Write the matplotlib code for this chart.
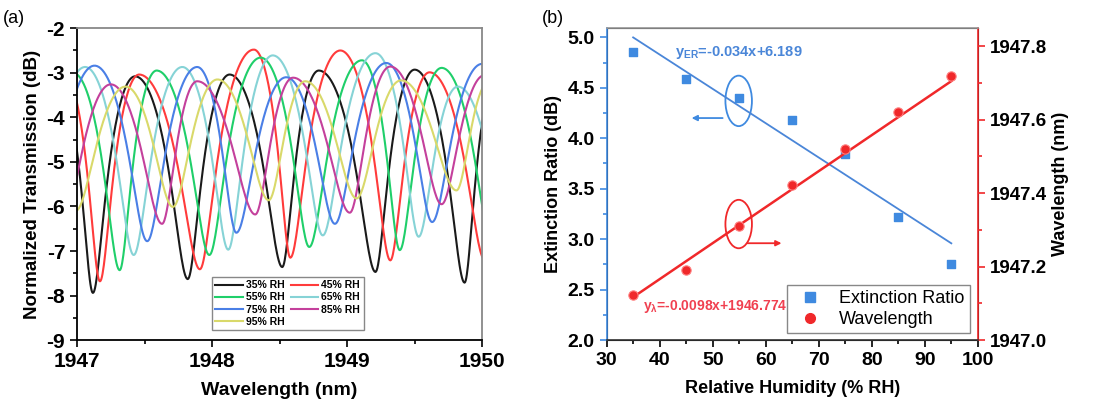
import numpy as np
import matplotlib.pyplot as plt
from matplotlib.patches import Ellipse
from matplotlib.lines import Line2D

plt.rcParams['font.family'] = ['Liberation Sans', 'DejaVu Sans']
plt.rcParams['axes.unicode_minus'] = False

# (a) spectra: peaks and dips (wavelength nm, dB)
rh_labels = ['35% RH', '45% RH', '55% RH', '65% RH', '75% RH', '85% RH', '95% RH']
rh_colors = ['#1a1a1a', '#ff3b3b', '#1fcf6a', '#86d3d6', '#4a7fe6', '#c4409c', '#d9d96a']

wl_35 = [1946.84, 1947.118, 1947.43, 1947.82, 1948.13, 1948.52, 1948.79, 1949.21, 1949.50, 1949.87, 1950.12]
tr_35 = [-3.00, -7.94, -3.08, -7.63, -3.04, -7.36, -2.95, -7.47, -2.93, -7.71, -2.95]
wl_45 = [1946.90, 1947.17, 1947.46, 1947.91, 1948.31, 1948.58, 1948.95, 1949.32, 1949.61, 1950.02]
tr_45 = [-3.00, -7.68, -3.04, -7.41, -2.48, -7.15, -2.50, -7.21, -2.99, -7.20]
wl_55 = [1946.97, 1947.316, 1947.59, 1947.98, 1948.36, 1948.72, 1949.11, 1949.39, 1949.70, 1950.08]
tr_55 = [-3.00, -7.43, -2.95, -7.09, -2.66, -6.91, -2.72, -6.98, -2.89, -7.00]
wl_65 = [1946.70, 1947.06, 1947.42, 1947.78, 1948.12, 1948.45, 1948.82, 1949.21, 1949.53, 1949.82, 1950.20]
tr_65 = [-6.80, -2.87, -7.09, -2.87, -6.97, -2.61, -6.65, -2.56, -6.68, -3.31, -6.70]
wl_75 = [1946.75, 1947.13, 1947.52, 1947.89, 1948.18, 1948.55, 1948.91, 1949.29, 1949.63, 1950.00, 1950.35]
tr_75 = [-6.50, -2.84, -6.78, -2.87, -6.59, -3.10, -6.39, -2.78, -6.35, -2.80, -6.40]
wl_85 = [1946.90, 1947.25, 1947.63, 1947.89, 1948.32, 1948.60, 1949.02, 1949.32, 1949.70, 1950.02]
tr_85 = [-6.30, -3.26, -6.39, -3.19, -6.18, -3.11, -6.14, -2.86, -5.95, -3.05]
wl_95 = [1946.99, 1947.36, 1947.71, 1948.04, 1948.42, 1948.69, 1949.07, 1949.40, 1949.81, 1950.05]
tr_95 = [-6.10, -3.31, -6.01, -3.15, -5.86, -3.19, -5.82, -3.17, -5.64, -3.20]

spectra = [(wl_35, tr_35), (wl_45, tr_45), (wl_55, tr_55), (wl_65, tr_65),
           (wl_75, tr_75), (wl_85, tr_85), (wl_95, tr_95)]

# (b) extinction ratio and dip wavelength vs humidity
humidity = [35, 45, 55, 65, 75, 85, 95]
ext_ratio = [4.85, 4.59, 4.40, 4.18, 3.84, 3.22, 2.75]
dip_wl = [1947.122, 1947.190, 1947.310, 1947.421, 1947.519, 1947.620, 1947.719]
er_fit = (-0.034, 6.189)
wl_fit = (0.0098, 1946.774)


def smooth_between(xs, ys, n=60, k=2.0):
    # half-cosine between neighbouring extrema, done on power**k so dips come out sharp
    out_x, out_y = [], []
    for i in range(len(xs) - 1):
        x0, x1 = xs[i], xs[i + 1]
        q0, q1 = 10 ** (k * ys[i] / 10), 10 ** (k * ys[i + 1] / 10)
        t = np.linspace(0, 1, n, endpoint=False)
        q = q0 + (q1 - q0) * (1 - np.cos(np.pi * t)) / 2
        out_x.append(x0 + (x1 - x0) * t)
        out_y.append(10 * np.log10(q) / k)
    out_x.append([xs[-1]])
    out_y.append([ys[-1]])
    return np.concatenate(out_x), np.concatenate(out_y)


fig = plt.figure(figsize=(10.95, 4.03), dpi=100)
ax1 = fig.add_axes([0.0703, 0.156, 0.370, 0.774])
ax2 = fig.add_axes([0.554, 0.156, 0.339, 0.774])

lines = []
for (xs, ys), lab, col in zip(spectra, rh_labels, rh_colors):
    x, y = smooth_between(xs, ys)
    ln, = ax1.plot(x, y, color=col, lw=1.5, label=lab)
    lines.append(ln)

ax1.set_xlim(1947, 1950)
ax1.set_ylim(-9, -2)
ax1.set_xticks([1947, 1948, 1949, 1950])
ax1.set_xticks(np.arange(1947, 1950.01, 0.5), minor=True)
ax1.set_yticks(np.arange(-9, -1.9, 1))
ax1.set_yticks(np.arange(-9, -1.9, 0.5), minor=True)
ax1.tick_params(which='both', direction='out', width=1.2)
ax1.tick_params(which='major', length=5, labelsize=15)
ax1.tick_params(which='minor', length=3)
for t in ax1.get_xticklabels() + ax1.get_yticklabels():
    t.set_fontweight('bold')
ax1.set_xlabel('Wavelength (nm)', fontsize=14, fontweight='bold', labelpad=8)
ax1.set_ylabel('Normalized Transmission (dB)', fontsize=13.5, fontweight='bold', labelpad=4)
for s in ax1.spines.values():
    s.set_linewidth(1.3)
ax1.spines['top'].set_color('#888888')
ax1.spines['right'].set_color('#888888')
# legend filled row by row like the original: 35 45 / 55 65 / 75 85 / 95
order = [0, 2, 4, 6, 1, 3, 5]
ax1.legend([lines[i] for i in order], [rh_labels[i] for i in order], ncol=2,
           loc='lower left', bbox_to_anchor=(0.32, 0.015),
           prop={'weight': 'bold', 'size': 7.5}, handlelength=2.6, columnspacing=0.6,
           handletextpad=0.3, labelspacing=0.2, borderpad=0.35, fancybox=False,
           edgecolor='#888888', framealpha=1)
fig.text(0.003, 0.955, '(a)', fontsize=13, ha='left', va='center')

# right panel
ax3 = ax2.twinx()
ax3.set_position(ax2.get_position())
blue = '#3f8ae0'
red = '#f0282a'
hx = np.array([humidity[0], humidity[-1]])
ax2.plot(hx, er_fit[0] * hx + er_fit[1], color='#4a86d8', lw=1.3)
ax2.scatter(humidity, ext_ratio, marker='s', s=40, color=blue, zorder=3)
ax3.plot(hx, wl_fit[0] * hx + wl_fit[1], color=red, lw=1.8)
ax3.scatter(humidity, dip_wl, marker='o', s=45, color=red, edgecolors='#ff8080',
            linewidths=0.8, zorder=3)

ax2.set_xlim(30, 100)
ax2.set_ylim(2.0, 5.09)
ax3.set_ylim(1947.0, 1947.849)
ax2.set_xticks(np.arange(30, 101, 10))
ax2.set_xticks(np.arange(30, 101, 5), minor=True)
ax2.set_yticks(np.arange(2.0, 5.01, 0.5))
ax2.set_yticks(np.arange(2.0, 5.01, 0.25), minor=True)
ax3.set_yticks(np.arange(1947.0, 1947.81, 0.2))
ax3.set_yticks(np.arange(1947.0, 1947.81, 0.1), minor=True)
ax2.yaxis.set_major_formatter(plt.FormatStrFormatter('%.1f'))
ax3.yaxis.set_major_formatter(plt.FormatStrFormatter('%.1f'))
ax2.tick_params(which='both', direction='out', width=1.2)
ax2.tick_params(which='major', length=5, labelsize=14)
ax2.tick_params(which='minor', length=3)
ax3.tick_params(which='both', direction='out', width=1.2, color=red)
ax3.tick_params(which='major', length=5, labelsize=13.5)
ax3.tick_params(which='minor', length=3)
ax2.tick_params(axis='y', which='both', color=blue)
for t in ax2.get_xticklabels() + ax2.get_yticklabels() + ax3.get_yticklabels():
    t.set_fontweight('bold')
ax2.set_xlabel('Relative Humidity (% RH)', fontsize=13, fontweight='bold', labelpad=8)
ax2.set_ylabel('Extinction Ratio (dB)', fontsize=13, fontweight='bold', labelpad=4)
ax3.set_ylabel('Wavelength (nm)', fontsize=13, fontweight='bold', labelpad=4)
for s in ax3.spines.values():
    s.set_linewidth(1.2)
ax3.spines['left'].set_color(blue)
ax3.spines['right'].set_color(red)
ax3.spines['top'].set_color('#999999')
ax3.spines['bottom'].set_color('#333333')

# ellipses and arrows marking which axis belongs to which series
ax2.add_patch(Ellipse((54.9, 4.37), 5.0, 0.50, fill=False, color=blue, lw=1.3))
ax2.annotate('', xy=(45.5, 4.20), xytext=(52.4, 4.20),
             arrowprops=dict(arrowstyle='-|>', color=blue, lw=1.3, mutation_scale=8))
ax2.add_patch(Ellipse((54.9, 3.15), 5.0, 0.48, fill=False, color=red, lw=1.3))
ax2.annotate('', xy=(63.5, 2.96), xytext=(56.0, 2.96),
             arrowprops=dict(arrowstyle='-|>', color=red, lw=1.3, mutation_scale=8))

ax2.text(42.8, 4.85, r'y$_{\mathregular{ER}}$=-0.034x+6.189', color='#4a86d8',
         fontsize=10.5, fontweight='bold', va='center')
ax2.text(36.8, 2.33, r'y$_{\mathregular{\lambda}}$=-0.0098x+1946.774', color='#f04050',
         fontsize=10, fontweight='bold', va='center')

handles = [Line2D([], [], marker='s', ls='', color=blue, markersize=7),
           Line2D([], [], marker='o', ls='', color=red, markersize=7)]
ax2.legend(handles, ['Extinction Ratio', 'Wavelength'], loc='lower right',
           bbox_to_anchor=(0.978, 0.022), borderaxespad=0, fontsize=13, fancybox=False,
           edgecolor='#888888', framealpha=1, handletextpad=0.6, borderpad=0.3,
           labelspacing=0.2)
fig.text(0.495, 0.955, '(b)', fontsize=13, ha='left', va='center')

fig.savefig('out.png', dpi=100)
